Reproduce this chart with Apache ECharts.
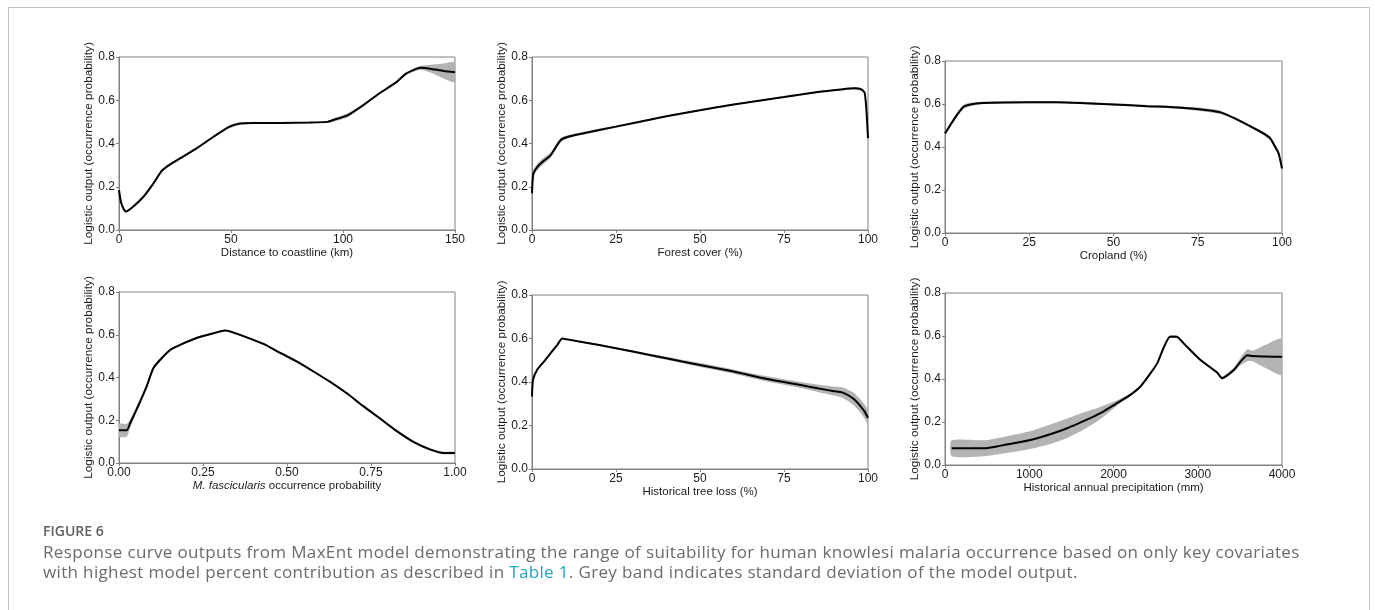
<!DOCTYPE html>
<html lang="en">
<head>
    <meta charset="UTF-8">
    <title>Figure 6</title>
    <script src="https://cdn.jsdelivr.net/npm/echarts@6/dist/echarts.min.js"></script>
    <style>
        body { margin: 0; background: #fff; }
        #frame { position: absolute; left: 8px; top: 7px; width: 1360px; height: 640px; border: 1px solid #c4c4c4; }
        #chart { position: absolute; left: 0; top: 0; width: 1375px; height: 610px; }
        #cap { position: absolute; left: 43px; top: 520px; font-family: "Open Sans", sans-serif; color: #6b6b6b; }
        #cap .fig { font-size: 14px; font-weight: 600; color: #5f5f5f; line-height: 22px; }
        #cap .txt { font-size: 17px; letter-spacing: 0.35px; line-height: 20px; }
        #cap a { color: #1fa5bd; text-decoration: none; }
    </style>
</head>
<body>
    <div id="frame"></div>
    <div id="chart"></div>
    <div id="cap">
        <div class="fig">FIGURE 6</div>
        <div class="txt">Response curve outputs from MaxEnt model demonstrating the range of suitability for human knowlesi malaria occurrence based on only key covariates<br>with highest model percent contribution as described in <a>Table 1</a>. Grey band indicates standard deviation of the model output.</div>
    </div>
    <script type="text/javascript">
        // distance to coastline (km)
        var distX = [0, 1, 3, 6, 11, 15, 19, 22, 27, 35, 42, 49, 54, 60, 72, 85, 93, 96, 102, 109, 116, 124, 128, 133, 135, 139, 145, 150];
        var distMean = [0.185, 0.125, 0.085, 0.105, 0.155, 0.21, 0.272, 0.298, 0.33, 0.38, 0.43, 0.476, 0.492, 0.495, 0.495, 0.497, 0.5, 0.51, 0.53, 0.577, 0.63, 0.685, 0.722, 0.746, 0.75, 0.746, 0.735, 0.73];
        var distSd = [0.005, 0.004, 0.004, 0.004, 0.005, 0.006, 0.008, 0.006, 0.005, 0.005, 0.005, 0.006, 0.006, 0.004, 0.003, 0.003, 0.004, 0.008, 0.01, 0.006, 0.005, 0.005, 0.006, 0.008, 0.01, 0.018, 0.035, 0.046];

        // forest cover (%)
        var forestX = [0, 0.4, 1.5, 3.5, 5.5, 8.5, 10.5, 15, 25, 40, 50, 60, 75, 85, 92, 96, 98, 99, 99.5, 100];
        var forestMean = [0.17, 0.26, 0.29, 0.32, 0.345, 0.415, 0.43, 0.446, 0.478, 0.526, 0.554, 0.58, 0.615, 0.638, 0.65, 0.655, 0.65, 0.635, 0.56, 0.425];
        var forestSd = [0.01, 0.015, 0.015, 0.015, 0.012, 0.01, 0.008, 0.006, 0.005, 0.004, 0.004, 0.004, 0.004, 0.004, 0.004, 0.005, 0.006, 0.008, 0.01, 0.01];

        // cropland (%)
        var cropX = [0, 1.5, 3.5, 5.5, 7.5, 11, 25, 33, 40, 50, 60, 70, 78, 82, 86, 90.5, 94.5, 96.5, 98, 99, 100];
        var cropMean = [0.463, 0.5, 0.548, 0.587, 0.598, 0.605, 0.608, 0.608, 0.605, 0.598, 0.59, 0.583, 0.571, 0.56, 0.533, 0.497, 0.463, 0.44, 0.4, 0.37, 0.3];
        var cropSd = [0.008, 0.01, 0.01, 0.01, 0.008, 0.006, 0.005, 0.005, 0.005, 0.005, 0.005, 0.006, 0.008, 0.008, 0.006, 0.006, 0.008, 0.01, 0.012, 0.012, 0.01];

        // M. fascicularis occurrence probability
        var macX = [0, 0.023, 0.033, 0.058, 0.082, 0.102, 0.122, 0.152, 0.182, 0.231, 0.281, 0.315, 0.325, 0.38, 0.43, 0.48, 0.53, 0.58, 0.628, 0.678, 0.727, 0.777, 0.826, 0.876, 0.925, 0.965, 1.0];
        var macMean = [0.153, 0.153, 0.185, 0.27, 0.357, 0.443, 0.482, 0.529, 0.553, 0.585, 0.607, 0.62, 0.618, 0.588, 0.557, 0.515, 0.474, 0.427, 0.38, 0.326, 0.266, 0.208, 0.15, 0.099, 0.064, 0.047, 0.047];
        var macSd = [0.03, 0.03, 0.02, 0.012, 0.01, 0.01, 0.008, 0.006, 0.005, 0.005, 0.005, 0.005, 0.005, 0.005, 0.005, 0.005, 0.005, 0.005, 0.006, 0.006, 0.006, 0.006, 0.006, 0.006, 0.006, 0.006, 0.006];

        // historical tree loss (%)
        var lossX = [0, 0.3, 1.5, 3.5, 5.5, 7.5, 9, 10.5, 20, 30, 40, 50, 60, 70, 80, 85, 89.5, 92.5, 95.5, 97.5, 99, 100];
        var lossMean = [0.333, 0.41, 0.455, 0.493, 0.532, 0.57, 0.6, 0.596, 0.57, 0.54, 0.509, 0.478, 0.448, 0.414, 0.386, 0.371, 0.359, 0.351, 0.325, 0.294, 0.264, 0.235];
        var lossSd = [0.01, 0.008, 0.005, 0.004, 0.004, 0.004, 0.004, 0.004, 0.004, 0.005, 0.007, 0.009, 0.01, 0.012, 0.014, 0.017, 0.02, 0.024, 0.028, 0.03, 0.032, 0.034];

        // historical annual precipitation (mm)
        var precX = [80, 475, 650, 850, 1050, 1250, 1450, 1650, 1850, 2050, 2200, 2320, 2440, 2520, 2600, 2670, 2750, 2830, 3030, 3230, 3290, 3430, 3510, 3590, 3650, 3800, 4000];
        var precMean = [0.078, 0.078, 0.089, 0.103, 0.12, 0.143, 0.171, 0.205, 0.243, 0.29, 0.326, 0.365, 0.427, 0.474, 0.55, 0.597, 0.597, 0.567, 0.489, 0.43, 0.404, 0.443, 0.482, 0.51, 0.507, 0.505, 0.503];
        var precSd = [0.037, 0.037, 0.038, 0.04, 0.042, 0.045, 0.045, 0.04, 0.028, 0.012, 0.006, 0.005, 0.005, 0.005, 0.005, 0.005, 0.005, 0.005, 0.005, 0.006, 0.008, 0.01, 0.018, 0.028, 0.024, 0.053, 0.085];

        var panels = [
            { x: distX, m: distMean, sd: distSd, max: 150, step: 50, name: 'Distance to coastline (km)', dec: 0 },
            { x: forestX, m: forestMean, sd: forestSd, max: 100, step: 25, name: 'Forest cover (%)', dec: 0 },
            { x: cropX, m: cropMean, sd: cropSd, max: 100, step: 25, name: 'Cropland (%)', dec: 0 },
            { x: macX, m: macMean, sd: macSd, max: 1, step: 0.25, name: '{i|M. fascicularis} occurrence probability', dec: 2 },
            { x: lossX, m: lossMean, sd: lossSd, max: 100, step: 25, name: 'Historical tree loss (%)', dec: 0 },
            { x: precX, m: precMean, sd: precSd, max: 4000, step: 1000, name: 'Historical annual precipitation (mm)', dec: 0 }
        ];

        // plot boxes
        var boxes = [
            { left: 119, top: 57, width: 336, height: 173 },
            { left: 532, top: 57, width: 336, height: 173 },
            { left: 945, top: 61, width: 337, height: 172 },
            { left: 119, top: 292, width: 336, height: 171 },
            { left: 532, top: 295, width: 336, height: 174 },
            { left: 945, top: 293, width: 337, height: 172 }
        ];

        var frameCol = '#808080';
        var font = 'Liberation Sans, Arial';
        var lbl = { fontFamily: font, fontSize: 12, color: '#1a1a1a' };

        // grey sd band as one polygon, drawn on the first item
        function bandRenderer(p) {
            return function (params, api) {
                if (params.dataIndex !== 0) return null;
                var pts = [];
                for (var k = 0; k < p.x.length; k++) pts.push(api.coord([p.x[k], p.m[k] + p.sd[k]]));
                for (var k = p.x.length - 1; k >= 0; k--) pts.push(api.coord([p.x[k], p.m[k] - p.sd[k]]));
                return { type: 'polygon', shape: { points: pts, smooth: 0.2 }, style: { fill: '#b3b3b3', stroke: null } };
            };
        }

        var grid = [], xAxis = [], yAxis = [], series = [];
        panels.forEach(function (p, i) {
            var b = boxes[i];
            grid.push({ left: b.left, top: b.top, width: b.width, height: b.height, show: true, borderColor: frameCol, borderWidth: 1 });
            xAxis.push({
                type: 'value', gridIndex: i, min: 0, max: p.max, interval: p.step,
                name: p.name, nameLocation: 'middle', nameGap: 17,
                nameTextStyle: { fontFamily: font, fontSize: 11.5, color: '#1a1a1a', rich: { i: { fontStyle: 'italic', fontFamily: font, fontSize: 11.5, color: '#1a1a1a' } } },
                axisLine: { show: true, lineStyle: { color: frameCol } },
                axisTick: { show: true, length: 3, lineStyle: { color: frameCol } },
                axisLabel: Object.assign({ margin: 4, formatter: function (v) { return v.toFixed(p.dec); } }, lbl),
                splitLine: { show: false }
            });
            yAxis.push({
                type: 'value', gridIndex: i, min: 0, max: 0.8, interval: 0.2,
                name: 'Logistic output (occurrence probability)', nameLocation: 'middle', nameGap: 22,
                nameTextStyle: { fontFamily: font, fontSize: 11.8, color: '#1a1a1a' },
                axisLine: { show: true, lineStyle: { color: frameCol } },
                axisTick: { show: true, length: 3, lineStyle: { color: frameCol } },
                axisLabel: Object.assign({ margin: 4, formatter: function (v) { return v.toFixed(1); } }, lbl),
                splitLine: { show: false }
            });
            var line = [];
            for (var k = 0; k < p.x.length; k++) line.push([p.x[k], p.m[k]]);
            series.push({ type: 'custom', xAxisIndex: i, yAxisIndex: i, data: line, silent: true, renderItem: bandRenderer(p), clip: true, z: 1 });
            series.push({ type: 'line', xAxisIndex: i, yAxisIndex: i, data: line, smooth: 0.2, showSymbol: false, silent: true, lineStyle: { color: '#000', width: 2 }, z: 2 });
        });

        var myChart = echarts.init(document.getElementById('chart'));
        myChart.setOption({
            animation: false,
            grid: grid,
            xAxis: xAxis,
            yAxis: yAxis,
            series: series
        });
    </script>
</body>
</html>
